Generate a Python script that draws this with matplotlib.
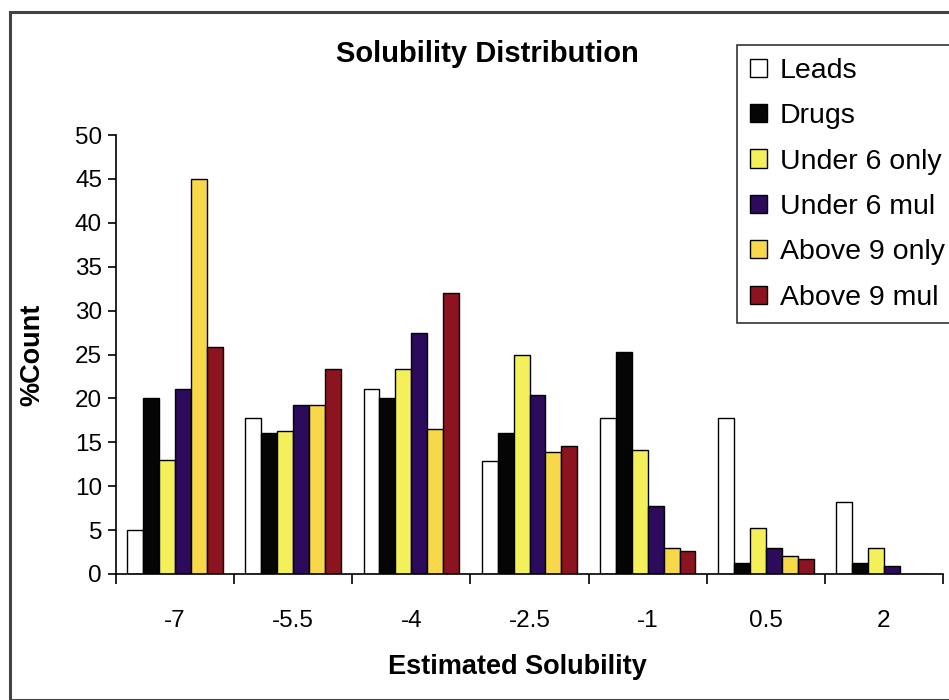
import numpy as np
import matplotlib.pyplot as plt
from matplotlib.patches import Rectangle

plt.rcParams['font.family'] = ['Liberation Sans', 'DejaVu Sans']

categories = ['-7', '-5.5', '-4', '-2.5', '-1', '0.5', '2']
series_names = ['Leads', 'Drugs', 'Under 6 only', 'Under 6 mul', 'Above 9 only', 'Above 9 mul']
leads = [5.0, 17.8, 21.1, 12.9, 17.8, 17.8, 8.2]
drugs = [20.0, 16.1, 20.0, 16.1, 25.3, 1.3, 1.3]
under6_only = [13.0, 16.3, 23.4, 24.9, 14.1, 5.2, 3.0]
under6_mul = [21.1, 19.3, 27.5, 20.4, 7.7, 3.0, 0.95]
above9_only = [45.0, 19.3, 16.5, 13.9, 3.0, 2.0, 0.0]
above9_mul = [25.8, 23.4, 32.0, 14.6, 2.6, 1.75, 0.0]
colors = ['#ffffff', '#050505', '#f3f05c', '#2c0b5c', '#f6d84a', '#8b1420']

series = [leads, drugs, under6_only, under6_mul, above9_only, above9_mul]

W, H = 949, 700
fig = plt.figure(figsize=(W / 100, H / 100), dpi=100)
ax = fig.add_axes([116 / W, 1 - 574 / H, (943 - 116) / W, (574 - 135) / H])

x = np.arange(len(categories))
bw = 0.135
for i, (name, vals, c) in enumerate(zip(series_names, series, colors)):
    ax.bar(x - 3 * bw + (i + 0.5) * bw, vals, width=bw, color=c,
           edgecolor='black', linewidth=1.0, label=name)

ax.set_xlim(-0.5, len(categories) - 0.5)
ax.set_ylim(0, 50)
ax.set_yticks(range(0, 51, 5))
ax.tick_params(axis='y', labelsize=17.5, length=6, width=1.2, pad=4)
ax.set_xticks(x)
ax.set_xticklabels(categories)
ax.set_xticks(np.arange(-0.5, len(categories)), minor=True)
ax.tick_params(axis='x', which='major', labelsize=17.5, length=0, pad=26)
ax.tick_params(axis='x', which='minor', length=7, width=1.2)

for s in ['top', 'right']:
    ax.spines[s].set_visible(False)
for s in ['left', 'bottom']:
    ax.spines[s].set_linewidth(1.2)

fig.text(487 / W, 1 - 54 / H, 'Solubility Distribution', ha='center', va='center',
         fontsize=21, fontweight='bold')
fig.text(517 / W, 1 - 667 / H, 'Estimated Solubility', ha='center', va='center',
         fontsize=19.5, fontweight='bold')
fig.text(32 / W, 1 - 355 / H, '%Count', ha='center', va='center',
         fontsize=19.5, fontweight='bold', rotation=90)

leg = fig.legend(loc='upper left', bbox_to_anchor=(737 / W, 1 - 45 / H),
                 bbox_transform=fig.transFigure, borderaxespad=0,
                 fontsize=20.5, frameon=True, fancybox=False, edgecolor='black',
                 handlelength=0.6, handleheight=0.6, handletextpad=0.45,
                 labelspacing=0.68, borderpad=0.45)
leg.get_frame().set_linewidth(1.2)

fig.patches.append(Rectangle((10 / W, 0), 1.5, 1 - 12 / H, transform=fig.transFigure,
                             fill=False, edgecolor='#444444', linewidth=2.2))

fig.savefig('out.png', dpi=100)
